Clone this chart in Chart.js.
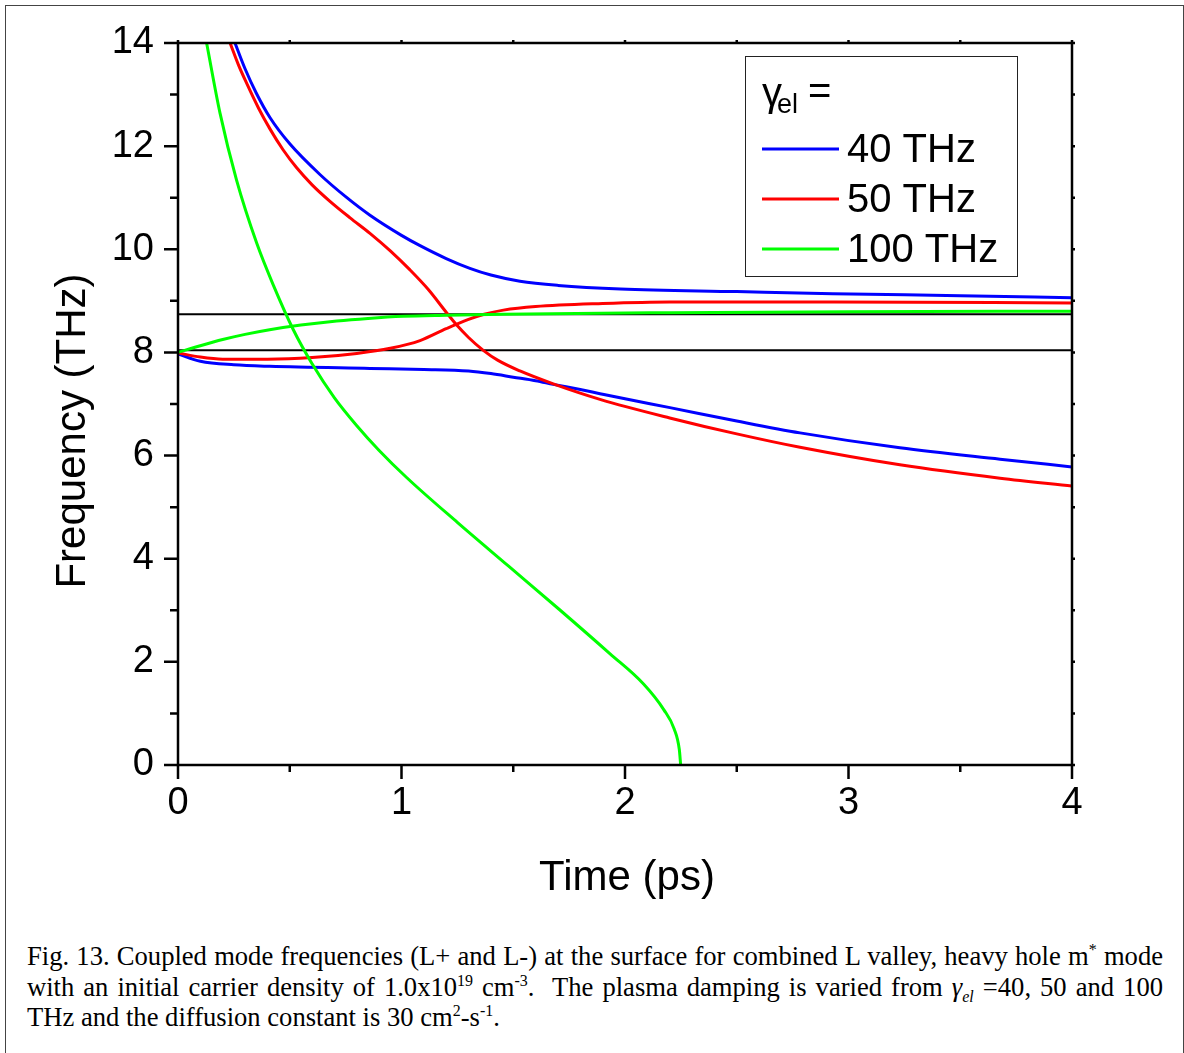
<!DOCTYPE html>
<html>
<head>
<meta charset="utf-8">
<script src="https://cdn.jsdelivr.net/npm/chart.js@4.4.1/dist/chart.umd.min.js"></script>
<style>
  html, body { margin: 0; padding: 0; background: #fff; }
  body { width: 1184px; height: 1053px; position: relative; overflow: hidden; }
  #frame { position: absolute; left: 5px; top: 5px; width: 1179px; height: 1100px; border: 1px solid #444; box-sizing: border-box; }
  #wrap { position: absolute; left: 0; top: 0; width: 1184px; height: 920px; }
  #caption { position: absolute; left: 27px; top: 941px; width: 1136px; font-family: 'Liberation Serif', 'Times New Roman', serif; font-size: 26.6px; line-height: 30.5px; color: #000; }
  #caption div { white-space: nowrap; }
  #caption .j { text-align: justify; text-align-last: justify; }
  sup, sub { font-size: 60%; line-height: 0; }
</style>
</head>
<body>
<div id="frame"></div>
<div id="wrap"><canvas id="chart" width="1184" height="920"></canvas></div>
<div id="caption">
  <div class="j">Fig. 13. Coupled mode frequencies (L+ and L-) at the surface for combined L valley, heavy hole m<sup>*</sup> mode</div>
  <div class="j">with an initial carrier density of 1.0x10<sup>19</sup> cm<sup>-3</sup>.&nbsp; The plasma damping is varied from <i>γ<sub>el</sub></i> =40, 50 and 100</div>
  <div>THz and the diffusion constant is 30 cm<sup>2</sup>-s<sup>-1</sup>.</div>
</div>
<script>
// gamma_el = 40 THz (blue)
const blueUpT = [0.255, 0.30, 0.35, 0.412, 0.501, 0.635, 0.75, 0.859, 1.0, 1.083, 1.2, 1.306, 1.4, 1.53, 1.7, 1.98, 2.5, 2.93, 3.5, 4.0];
const blueUpF = [14.0, 13.50, 13.03, 12.55, 12.04, 11.45, 11.02, 10.66, 10.27, 10.07, 9.82, 9.63, 9.50, 9.38, 9.30, 9.23, 9.18, 9.14, 9.10, 9.06];
const blueLowT = [0, 0.1, 0.25, 0.41, 0.859, 1.1, 1.3, 1.4, 1.5, 1.6, 1.679, 1.8, 1.888, 2.0, 2.201, 2.5, 2.783, 3.23, 3.678, 4.0];
const blueLowF = [7.97, 7.83, 7.76, 7.73, 7.69, 7.67, 7.64, 7.59, 7.52, 7.45, 7.38, 7.28, 7.20, 7.10, 6.93, 6.67, 6.44, 6.15, 5.93, 5.78];

// gamma_el = 50 THz (red)
const redDownT = [0.233, 0.27, 0.307, 0.36, 0.412, 0.47, 0.531, 0.60, 0.68, 0.77, 0.859, 0.95, 1.038, 1.12, 1.20, 1.247, 1.30, 1.366, 1.43, 1.53, 1.679, 1.888, 2.2, 2.5, 2.783, 3.23, 3.678, 4.0];
const redDownF = [14.0, 13.58, 13.22, 12.74, 12.33, 11.93, 11.58, 11.25, 10.93, 10.61, 10.31, 9.97, 9.60, 9.22, 8.78, 8.53, 8.29, 8.04, 7.85, 7.64, 7.39, 7.09, 6.73, 6.42, 6.16, 5.82, 5.56, 5.41];
const redUpT = [0, 0.1, 0.2, 0.4, 0.6, 0.8, 0.95, 1.083, 1.2, 1.3, 1.37, 1.456, 1.6, 1.9, 2.2, 2.93, 4.0];
const redUpF = [7.99, 7.91, 7.87, 7.87, 7.90, 7.98, 8.08, 8.23, 8.46, 8.64, 8.74, 8.82, 8.89, 8.95, 8.98, 8.98, 8.96];

// gamma_el = 100 THz (green)
const greenUpT = [0, 0.1, 0.2, 0.3, 0.41, 0.55, 0.71, 0.85, 1.008, 1.2, 1.456, 2.2, 3.0, 4.0];
const greenUpF = [8.0, 8.13, 8.25, 8.35, 8.44, 8.53, 8.61, 8.66, 8.70, 8.72, 8.74, 8.77, 8.79, 8.80];
const greenDownT = [0.128, 0.188, 0.262, 0.352, 0.427, 0.516, 0.60, 0.70, 0.80, 0.90, 1.024, 1.251, 1.478, 1.705, 1.932, 2.083, 2.174, 2.22, 2.243, 2.249];
const greenDownF = [14.0, 12.64, 11.34, 10.12, 9.30, 8.44, 7.78, 7.12, 6.58, 6.10, 5.57, 4.70, 3.86, 3.02, 2.16, 1.57, 1.07, 0.70, 0.30, 0.0];

// horizontal reference frequencies (THz)
const refLevels = [8.74, 8.04];
const timeRange = [0, 4];

const seriesNames = ['40 THz', '50 THz', '100 THz'];
const seriesColors = ['#0000ff', '#ff0000', '#00ff00'];

const FONT = "'Liberation Sans', Arial, sans-serif";

function pts(t, f) {
  return t.map((v, i) => ({ x: v, y: f[i] }));
}

function curve(t, f, color, order) {
  return { data: pts(t, f), borderColor: color, borderWidth: 3, order: order };
}

const datasets = [
  curve(blueUpT, blueUpF, seriesColors[0], 3),
  curve(blueLowT, blueLowF, seriesColors[0], 3),
  curve(redDownT, redDownF, seriesColors[1], 2),
  curve(redUpT, redUpF, seriesColors[1], 2),
  curve(greenUpT, greenUpF, seriesColors[2], 1),
  curve(greenDownT, greenDownF, seriesColors[2], 1)
];
refLevels.forEach(level => {
  datasets.push({
    data: timeRange.map(t => ({ x: t, y: level })),
    borderColor: '#000', borderWidth: 2, order: 5, cubicInterpolationMode: 'default', tension: 0
  });
});

// frame ticks, axis titles and the legend box
const decor = {
  id: 'decor',
  afterDraw(chart) {
    const { ctx, chartArea: a, scales: { x, y } } = chart;
    ctx.save();
    ctx.strokeStyle = '#000';
    ctx.lineWidth = 2.5;
    ctx.strokeRect(a.left, a.top, a.right - a.left, a.bottom - a.top);

    ctx.beginPath();
    y.ticks.forEach(t => {
      const py = y.getPixelForValue(t.value);
      const len = t.value % 2 === 0 ? 14 : 8;
      ctx.moveTo(a.left - len, py); ctx.lineTo(a.left, py);
      ctx.moveTo(a.right, py); ctx.lineTo(a.right + 3, py);
    });
    x.ticks.forEach(t => {
      const px = x.getPixelForValue(t.value);
      const len = Number.isInteger(t.value) ? 14 : 7;
      ctx.moveTo(px, a.bottom); ctx.lineTo(px, a.bottom + len);
      ctx.moveTo(px, a.top); ctx.lineTo(px, a.top - 3);
    });
    ctx.stroke();

    // axis titles
    ctx.fillStyle = '#000';
    ctx.font = '42px ' + FONT;
    ctx.textAlign = 'center';
    ctx.textBaseline = 'alphabetic';
    ctx.fillText('Time (ps)', (a.left + a.right) / 2 + 2, 890);
    ctx.save();
    ctx.translate(85, 431);
    ctx.rotate(-Math.PI / 2);
    ctx.fillText('Frequency (THz)', 0, 0);
    ctx.restore();

    // legend
    ctx.fillStyle = '#fff';
    ctx.fillRect(745.5, 56.5, 272, 220);
    ctx.strokeStyle = '#222';
    ctx.lineWidth = 1;
    ctx.strokeRect(745.5, 56.5, 272, 220);
    ctx.fillStyle = '#000';
    ctx.textAlign = 'left';
    ctx.font = '40px ' + FONT;
    ctx.fillText('γ', 762, 106);
    ctx.font = '27px ' + FONT;
    ctx.fillText('el', 777, 113);
    ctx.font = '40px ' + FONT;
    ctx.fillText('=', 808, 104);
    seriesNames.forEach((name, i) => {
      const ly = 149 + i * 50;
      ctx.strokeStyle = seriesColors[i];
      ctx.lineWidth = 3;
      ctx.beginPath();
      ctx.moveTo(762, ly); ctx.lineTo(839, ly);
      ctx.stroke();
      ctx.fillStyle = '#000';
      ctx.fillText(name, 847, ly + 13);
    });
    ctx.restore();
  }
};

new Chart(document.getElementById('chart').getContext('2d'), {
  type: 'line',
  data: { datasets },
  options: {
    responsive: false,
    animation: false,
    layout: { padding: { top: 43, right: 112, left: 0, bottom: 0 } },
    plugins: { legend: { display: false }, tooltip: { enabled: false } },
    elements: { point: { radius: 0 }, line: { cubicInterpolationMode: 'monotone' } },
    scales: {
      x: {
        type: 'linear', min: 0, max: 4,
        afterFit: s => { s.height = 155; },
        border: { display: false },
        grid: { drawOnChartArea: false, tickLength: 12, tickColor: 'rgba(0,0,0,0)' },
        ticks: {
          stepSize: 0.5, autoSkip: false, maxRotation: 0, padding: 4, color: '#000',
          font: { family: FONT, size: 38 },
          callback: v => Number.isInteger(v) ? v : ''
        }
      },
      y: {
        type: 'linear', min: 0, max: 14,
        afterFit: s => { s.width = 178; },
        border: { display: false },
        grid: { drawOnChartArea: false, tickLength: 12, tickColor: 'rgba(0,0,0,0)' },
        ticks: {
          stepSize: 1, autoSkip: false, padding: 12, color: '#000',
          font: { family: FONT, size: 38 },
          callback: v => v % 2 === 0 ? v : ''
        }
      }
    }
  },
  plugins: [decor]
});
</script>
</body>
</html>
